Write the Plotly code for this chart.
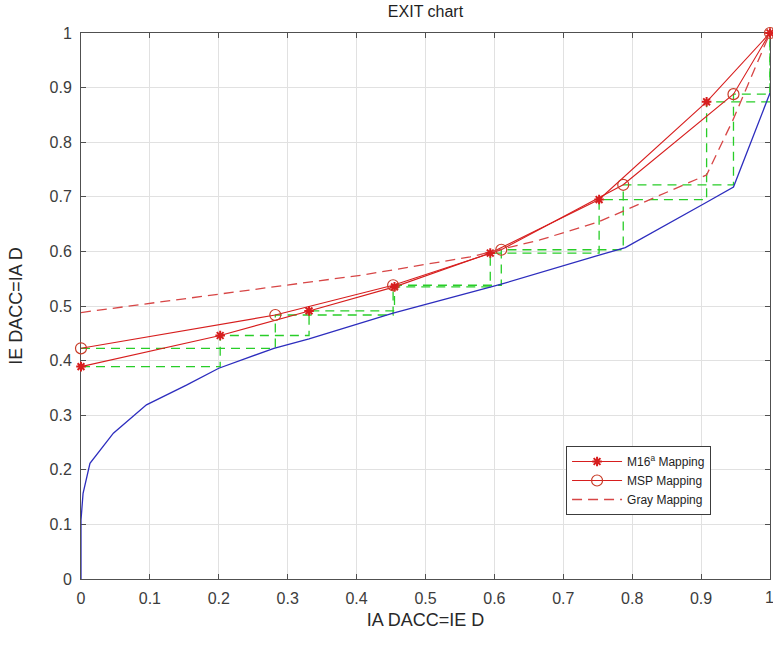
import plotly.graph_objects as go

# Decoder (inner) curve, inverted axes
dec_x = [0, 0, 0.003, 0.013, 0.047, 0.095, 0.153, 0.2, 0.28, 0.331, 0.453, 0.594, 0.61, 0.752, 0.79, 0.908, 0.947, 1.0]
dec_y = [0, 0.108, 0.157, 0.212, 0.267, 0.319, 0.355, 0.386, 0.4225, 0.44, 0.487, 0.535, 0.54, 0.593, 0.607, 0.69, 0.718, 0.89]

# M16a mapping
m16_x = [0, 0.202, 0.331, 0.455, 0.594, 0.752, 0.908, 1.0]
m16_y = [0.389, 0.446, 0.491, 0.535, 0.597, 0.695, 0.874, 1.0]

# MSP mapping
msp_x = [0, 0.282, 0.453, 0.61, 0.787, 0.947, 1.0]
msp_y = [0.4225, 0.4835, 0.538, 0.603, 0.722, 0.888, 1.0]

# Gray mapping
gray_x = [0, 0.26, 0.41, 0.565, 0.666, 0.751, 0.908, 0.946, 1.0]
gray_y = [0.488, 0.531, 0.557, 0.59, 0.621, 0.654, 0.74, 0.84, 1.0]

ticks = [0, 0.1, 0.2, 0.3, 0.4, 0.5, 0.6, 0.7, 0.8, 0.9, 1]
tick_text = ["0", "0.1", "0.2", "0.3", "0.4", "0.5", "0.6", "0.7", "0.8", "0.9", "1"]


def staircase(xs, ys):
    sx, sy = [xs[0]], [ys[0]]
    for i in range(1, len(xs)):
        sx.append(xs[i]); sy.append(ys[i - 1])
        sx.append(xs[i]); sy.append(ys[i])
    return sx, sy


RED = "rgb(215,30,30)"
GREEN = "rgb(40,205,40)"
BLUE = "rgb(45,45,190)"
FONT = "Liberation Sans, Arial"
TICKFONT = dict(family=FONT, size=16, color="rgb(60,60,60)")

fig = go.Figure()
for xs, ys in [(m16_x, m16_y), (msp_x, msp_y)]:
    sx, sy = staircase(xs, ys)
    fig.add_trace(go.Scatter(x=sx, y=sy, mode="lines",
                             line=dict(color=GREEN, width=1.3, dash="9px,6px"),
                             showlegend=False, cliponaxis=False))
fig.add_trace(go.Scatter(x=dec_x, y=dec_y, mode="lines", line=dict(color=BLUE, width=1.3),
                         showlegend=False, cliponaxis=False))

fig.add_trace(go.Scatter(x=m16_x, y=m16_y, mode="lines+markers", name="M16<sup>a</sup> Mapping",
                         line=dict(color=RED, width=1.1),
                         marker=dict(symbol="asterisk-open", size=8, color=RED,
                                     line=dict(color=RED, width=2)),
                         cliponaxis=False))
fig.add_trace(go.Scatter(x=msp_x, y=msp_y, mode="lines+markers", name="MSP Mapping",
                         line=dict(color=RED, width=1.1),
                         marker=dict(symbol="circle-open", size=11, color="rgb(200,60,40)",
                                     line=dict(color="rgb(200,60,40)", width=1.2)),
                         cliponaxis=False))
fig.add_trace(go.Scatter(x=gray_x, y=gray_y, mode="lines", name="Gray Mapping",
                         line=dict(color="rgb(215,70,70)", width=1.3, dash="10px,6px"),
                         cliponaxis=False))

axis_common = dict(
    tickvals=ticks, ticktext=tick_text, automargin=False,
    showgrid=True, gridcolor="rgb(225,225,225)", gridwidth=1,
    zeroline=False, showline=True, linecolor="rgb(80,80,80)", linewidth=1,
    mirror="ticks", ticks="inside", ticklen=5, tickcolor="rgb(80,80,80)",
    tickfont=TICKFONT,
    ticklabelstandoff=5,
    layer="below traces",
)

fig.update_layout(
    width=773, height=650,
    margin=dict(l=81, r=3, t=33, b=71, autoexpand=False),
    paper_bgcolor="white", plot_bgcolor="white",
    title=dict(text="EXIT chart", x=425.5 / 773, xanchor="center",
               y=1 - 11 / 650, yanchor="middle", yref="container",
               font=dict(family=FONT, size=16, color="rgb(30,30,30)")),
    xaxis=dict(axis_common, range=[0, 1.00001],
               title=dict(text="IA DACC=IE D", standoff=7,
                          font=dict(family=FONT, size=18, color="rgb(40,40,40)"))),
    yaxis=dict(axis_common, range=[0, 1.00001],
               title=dict(text="IE DACC=IA D", standoff=22,
                          font=dict(family=FONT, size=18, color="rgb(40,40,40)"))),
    legend=dict(x=0.704, y=0.2436, xanchor="left", yanchor="top",
                bgcolor="white", bordercolor="rgb(60,60,60)", borderwidth=1,
                font=dict(family=FONT, size=12, color="rgb(30,30,30)"),
                tracegroupgap=0, itemwidth=50),
    showlegend=True,
)

# last x tick label (plotly hides it at the paper edge)
fig.add_annotation(x=ticks[-1], y=0, xref="x", yref="paper", text=tick_text[-1],
                   showarrow=False, xanchor="center", yanchor="top", yshift=-8,
                   font=TICKFONT)

fig.write_html("out.html", config={"displayModeBar": False},
               post_script="document.body.style.margin='0';document.body.style.padding='0';")
